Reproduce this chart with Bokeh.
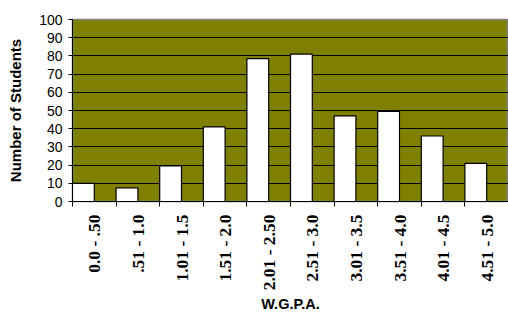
from bokeh.plotting import figure
from bokeh.models import Range1d, FixedTicker
from bokeh.layouts import column
from bokeh.core.properties import value
from bokeh.embed import file_html
from bokeh.resources import INLINE
import math

categories = ["0.0 - .50", ".51 - 1.0", "1.01 - 1.5", "1.51 - 2.0", "2.01 - 2.50",
              "2.51 - 3.0", "3.01 - 3.5", "3.51 - 4.0", "4.01 - 4.5", "4.51 - 5.0"]
students = [10, 7.5, 19.5, 41, 78.5, 81, 47, 49.5, 36, 21]
y_ticks = [0, 10, 20, 30, 40, 50, 60, 70, 80, 90, 100]

n = len(categories)
bar_x = [i + 0.25 for i in range(n)]
label_pos = [i + 0.5 for i in range(n)]
boundaries = list(range(n + 1))

xr = Range1d(0, n)

p = figure(frame_width=436, frame_height=182, output_backend="svg", toolbar_location=None,
           x_range=xr, y_range=Range1d(0, 100),
           min_border_left=72, min_border_top=19, min_border_right=0, min_border_bottom=13)

p.background_fill_color = "#808000"
p.border_fill_color = "white"
p.outline_line_color = "#808080"
p.outline_line_width = 1.5

p.vbar(x=bar_x, width=0.5, top=students, bottom=0,
       fill_color="white", line_color="black", line_width=1.2)

# y axis
p.yaxis.ticker = FixedTicker(ticks=y_ticks, minor_ticks=[])
p.yaxis.major_label_text_font = "Liberation Sans"
p.yaxis.major_label_text_font_size = "14px"
p.yaxis.major_label_text_color = "black"
p.yaxis.major_tick_out = 4
p.yaxis.major_tick_in = 0
p.yaxis.major_tick_line_color = "black"
p.yaxis.axis_line_color = "black"
p.yaxis.major_label_standoff = 6
p.yaxis.axis_label = "Number of Students"
p.yaxis.axis_label_text_font = "Liberation Sans"
p.yaxis.axis_label_text_font_style = "bold"
p.yaxis.axis_label_text_font_size = "15px"
p.yaxis.axis_label_text_color = "black"
p.yaxis.axis_label_standoff = 12

# x axis: tick marks at the band boundaries only
p.xaxis.ticker = FixedTicker(ticks=[], minor_ticks=boundaries)
p.xaxis.major_tick_out = 0
p.xaxis.major_tick_in = 0
p.xaxis.minor_tick_out = 5
p.xaxis.minor_tick_in = 0
p.xaxis.minor_tick_line_color = "black"
p.xaxis.axis_line_color = "black"

p.xgrid.visible = False
p.ygrid.ticker = FixedTicker(ticks=y_ticks[:-1], minor_ticks=[])
p.ygrid.grid_line_color = "black"
p.ygrid.grid_line_width = 1

# category labels + axis title, in a strip sharing the x range
q = figure(frame_width=436, frame_height=81, output_backend="svg", toolbar_location=None,
           x_range=xr, y_range=Range1d(0, 1),
           min_border_left=72, min_border_top=0, min_border_right=0, min_border_bottom=0)
q.outline_line_color = None
q.background_fill_color = "white"
q.border_fill_color = "white"
q.grid.visible = False
q.yaxis.visible = False
q.xaxis.ticker = FixedTicker(ticks=[], minor_ticks=[])
q.xaxis.axis_line_color = None
q.xaxis.major_tick_line_color = None
q.xaxis.minor_tick_line_color = None
q.xaxis.axis_label = "W.G.P.A."
q.xaxis.axis_label_text_font = "Liberation Sans"
q.xaxis.axis_label_text_font_style = "bold"
q.xaxis.axis_label_text_font_size = "14.5px"
q.xaxis.axis_label_text_color = "black"
q.xaxis.axis_label_standoff = 0

q.text(x=label_pos, y=[1] * n, text=categories, angle=math.pi / 2,
       text_align="right", text_baseline="middle",
       text_font=value("Liberation Serif"), text_font_style="bold",
       text_font_size="17.5px", text_color="black")

layout = column(p, q, spacing=0)

html = file_html(layout, INLINE)
html = html.replace("<head>", "<head><style>html,body{overflow:hidden;}</style>", 1)
open("out.html", "w").write(html)
